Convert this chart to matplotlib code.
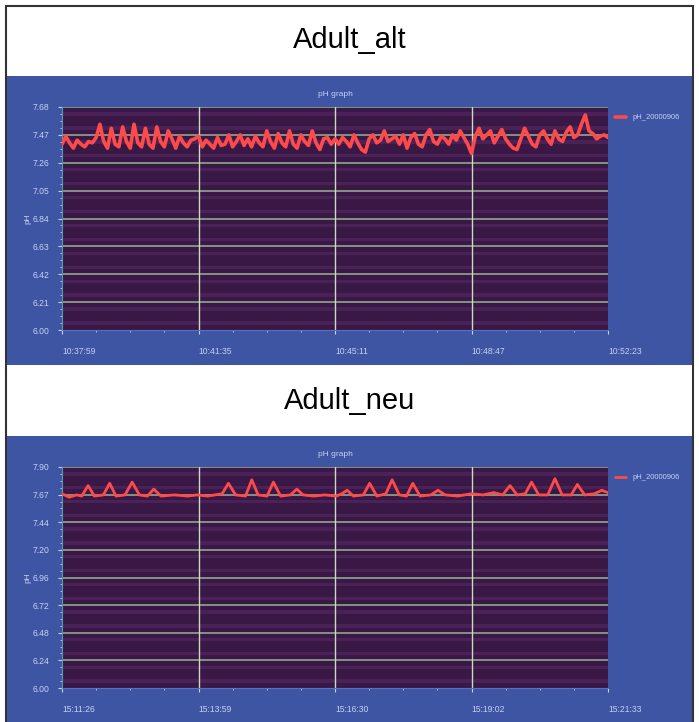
import matplotlib
matplotlib.use("Agg")
import matplotlib.pyplot as plt
import numpy as np
from matplotlib.patches import Rectangle

# ---------------- data ----------------
titles = ["Adult_alt", "Adult_neu"]
series_name = "pH_20000906"

# top panel: seconds since 10:37:59, sampled every 6 s
alt_values = [7.40, 7.46, 7.41, 7.37, 7.43, 7.40, 7.38, 7.42, 7.41, 7.45,
              7.55, 7.42, 7.37, 7.52, 7.40, 7.38, 7.53, 7.42, 7.37, 7.55,
              7.41, 7.38, 7.52, 7.40, 7.37, 7.53, 7.42, 7.38, 7.50, 7.44,
              7.37, 7.46, 7.41, 7.38, 7.43, 7.44, 7.46, 7.38, 7.43, 7.40,
              7.37, 7.45, 7.39, 7.40, 7.47, 7.38, 7.42, 7.47, 7.39, 7.44,
              7.38, 7.46, 7.41, 7.38, 7.50, 7.42, 7.37, 7.48, 7.41, 7.38,
              7.50, 7.40, 7.37, 7.47, 7.42, 7.39, 7.50, 7.41, 7.36, 7.44,
              7.45, 7.40, 7.44, 7.40, 7.45, 7.42, 7.38, 7.47, 7.41, 7.36,
              7.34, 7.44, 7.47, 7.41, 7.43, 7.50, 7.42, 7.44, 7.46, 7.40,
              7.47, 7.37, 7.45, 7.48, 7.40, 7.38, 7.47, 7.51, 7.42, 7.40,
              7.46, 7.44, 7.40, 7.47, 7.43, 7.50, 7.45, 7.40, 7.33, 7.46,
              7.52, 7.44, 7.47, 7.50, 7.41, 7.46, 7.51, 7.44, 7.40, 7.37,
              7.36, 7.44, 7.52, 7.46, 7.40, 7.38, 7.47, 7.50, 7.44, 7.40,
              7.50, 7.44, 7.42, 7.49, 7.53, 7.45, 7.47, 7.55, 7.62, 7.50,
              7.48, 7.44, 7.46, 7.47, 7.45]
alt_step = 6
alt_xticks = ["10:37:59", "10:41:35", "10:45:11", "10:48:47", "10:52:23"]
alt_yticks = ["6.00", "6.21", "6.42", "6.63", "6.84", "7.05", "7.26", "7.47", "7.68"]
alt_range = (6.00, 7.68, 864)

# bottom panel: (seconds since 15:11:26, pH)
neu_t = [0, 8, 16, 22, 29, 36, 46, 53, 60, 70, 78, 86, 95, 102, 110, 125, 140, 150,
         162, 170, 178, 185, 193, 204, 211, 218, 228, 235, 243, 254, 261, 268, 280, 292,
         305, 311, 317, 324, 335, 342, 350, 360, 367, 375, 383, 390, 398, 410, 418, 426,
         440, 455, 468, 480, 490, 498, 506, 515, 522, 530, 540, 548, 556, 566, 573, 581,
         592, 600, 607]
neu_v = [7.67, 7.64, 7.66, 7.65, 7.74, 7.65, 7.66, 7.76, 7.65, 7.66, 7.77, 7.66, 7.65, 7.71, 7.65, 7.66, 7.65, 7.66,
         7.65, 7.66, 7.67, 7.76, 7.66, 7.65, 7.79, 7.66, 7.65, 7.77, 7.65, 7.66, 7.71, 7.66, 7.65, 7.66,
         7.65, 7.67, 7.70, 7.65, 7.66, 7.76, 7.65, 7.67, 7.79, 7.66, 7.65, 7.76, 7.65, 7.66, 7.70, 7.66,
         7.65, 7.67, 7.66, 7.68, 7.66, 7.74, 7.66, 7.67, 7.77, 7.66, 7.66, 7.80, 7.66, 7.66, 7.75, 7.66,
         7.67, 7.70, 7.68]
neu_xticks = ["15:11:26", "15:13:59", "15:16:30", "15:19:02", "15:21:33"]
neu_yticks = ["6.00", "6.24", "6.48", "6.72", "6.96", "7.20", "7.44", "7.67", "7.90"]
neu_range = (6.00, 7.90, 607)

# ---------------- style ----------------
W, H = 699, 722
BLUE = "#3d55a2"
PLOT_BG = "#3a1846"
STRIPE = "#4a2258"
HGRID = "#8c9a88"
VGRID = "#c8dcc0"
LINE = "#ff4a4a"
TXT = "#c4d2f2"

plt.rcParams["font.family"] = ["Liberation Sans", "DejaVu Sans"]
fig = plt.figure(figsize=(W / 100, H / 100), dpi=100)
fig.patch.set_facecolor("white")


def fx(px):
    return px / W


def fy(py):
    return 1 - py / H


# blue panels
for (top, bot) in [(76, 365), (436, 722)]:
    fig.patches.append(Rectangle((fx(7), fy(bot)), fx(692) - fx(7), fy(top) - fy(bot),
                                 transform=fig.transFigure, facecolor=BLUE,
                                 edgecolor="none", zorder=-10))
# outer border
fig.patches.append(Rectangle((fx(6), fy(724)), fx(693) - fx(6), fy(6) - fy(724),
                             transform=fig.transFigure, facecolor="none",
                             edgecolor="#333333", linewidth=1.5, zorder=10))

panels = [
    dict(title=titles[0], title_y=40, top=107, bot=330, t=np.arange(len(alt_values)) * alt_step,
         v=alt_values, xt=alt_xticks, yt=alt_yticks, rng=alt_range, gy=95, lw=2.6),
    dict(title=titles[1], title_y=401, top=467, bot=688, t=np.array(neu_t),
         v=neu_v, xt=neu_xticks, yt=neu_yticks, rng=neu_range, gy=455, lw=2.0),
]

for p in panels:
    fig.text(fx(350), fy(p["title_y"]), p["title"], ha="center", va="center",
             fontsize=21, color="black")
    ax = fig.add_axes([fx(62), fy(p["bot"]), fx(608) - fx(62), fy(p["top"]) - fy(p["bot"])])
    ax.set_zorder(1)
    ymin, ymax, tmax = p["rng"]
    ax.set_facecolor(PLOT_BG)
    ax.set_xlim(0, tmax)
    ax.set_ylim(ymin, ymax)
    yt = np.linspace(ymin, ymax, len(p["yt"]))
    # stripes between major gridlines
    step = (ymax - ymin) / (len(p["yt"]) - 1)
    for k in range(len(yt) - 1):
        for j in (1, 3):
            y0 = yt[k] + step * j / 4 - step * 0.06
            ax.axhspan(y0, y0 + step * 0.12, color=STRIPE, lw=0, zorder=0)
    ax.set_yticks(yt)
    ax.set_yticklabels(p["yt"])
    xt = np.linspace(0, tmax, len(p["xt"]))
    ax.set_xticks(xt)
    ax.set_xticklabels(p["xt"], ha="left")
    ax.set_xticks(np.linspace(0, tmax, 4 * 4 + 1), minor=True)
    ax.set_yticks(np.linspace(ymin, ymax, 8 * 4 + 1), minor=True)
    for y in yt[1:-1]:
        ax.axhline(y, color=HGRID, lw=1.3, zorder=1)
    ax.axhline(ymax, color=HGRID, lw=1.3, zorder=1)
    for x in xt[1:-1]:
        ax.axvline(x, color=VGRID, lw=1.0, zorder=1)
    ax.plot(p["t"], p["v"], color=LINE, lw=p["lw"], zorder=3, label=series_name,
            solid_joinstyle="round", solid_capstyle="round")
    ax.tick_params(axis="both", colors=TXT, labelsize=6.2, length=3, width=0.8)
    ax.tick_params(axis="both", which="minor", colors=TXT, length=1.5, width=0.6)
    ax.tick_params(axis="x", pad=9)
    ax.tick_params(axis="y", pad=6)
    for s in ax.spines.values():
        s.set_visible(False)
    ax.spines["left"].set_visible(True)
    ax.spines["left"].set_color("#5a9ab0")
    ax.spines["bottom"].set_visible(True)
    ax.spines["bottom"].set_color("#5a70b8")
    ax.set_ylabel("pH", color=TXT, fontsize=6, labelpad=1)
    fig.text(fx(335), fy(p["gy"]), "pH graph", ha="center", va="center",
             fontsize=6, color=TXT)
    ax.legend(loc="upper left", bbox_to_anchor=(1.0, 1.0), frameon=False,
              fontsize=5.5, handlelength=1.5, labelcolor=TXT)

fig.savefig("out.png", dpi=100)
